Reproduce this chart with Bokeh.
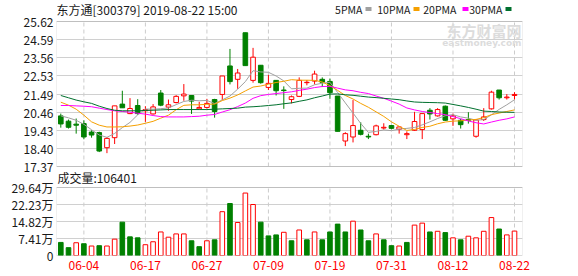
from bokeh.plotting import figure
from bokeh.models import (ColumnDataSource, FixedTicker, CustomJSTickFormatter,
                          BoxAnnotation, Range1d)
from bokeh.core.properties import value
from bokeh.embed import file_html
from bokeh.resources import INLINE

FONT = "Noto Sans CJK SC"

dates = ["05-30", "05-31", "06-03", "06-04", "06-05", "06-06", "06-10", "06-11", "06-12", "06-13",
         "06-14", "06-17", "06-18", "06-19", "06-20", "06-21", "06-24", "06-25", "06-26", "06-27",
         "06-28", "07-01", "07-02", "07-03", "07-04", "07-05", "07-08", "07-09", "07-10", "07-11",
         "07-12", "07-15", "07-16", "07-17", "07-18", "07-19", "07-22", "07-23", "07-24", "07-25",
         "07-26", "07-29", "07-30", "07-31", "08-01", "08-02", "08-05", "08-06", "08-07", "08-08",
         "08-09", "08-12", "08-13", "08-14", "08-15", "08-16", "08-19", "08-20", "08-21", "08-22"]
tick_dates = ["06-04", "06-17", "06-27", "07-09", "07-19", "07-31", "08-12", "08-22"]

opens = [20.25, 19.95, 19.78, 19.81, 19.33, 19.30, 18.44, 19.01, 20.92, 20.38,
         20.84, 20.54, 20.36, 21.55, 20.75, 21.01, 21.39, 21.41, 20.65, 20.73,
         21.18, 21.47, 23.09, 22.33, 24.98, 22.27, 23.13, 21.87, 22.27, 21.72,
         21.18, 21.36, 22.14, 22.23, 22.33, 22.21, 21.38, 18.82, 19.05, 19.43,
         19.09, 19.18, 19.56, 19.70, 19.49, 19.18, 19.43, 19.47, 20.57, 20.25,
         20.80, 20.08, 20.00, 20.04, 19.09, 20.04, 20.65, 21.72, 21.28, 21.41]
highs = [20.38, 20.04, 20.10, 20.00, 19.43, 19.35, 19.05, 20.82, 21.68, 21.26,
         21.20, 20.80, 20.92, 21.72, 21.18, 21.43, 22.06, 21.41, 21.05, 21.22,
         21.22, 22.52, 24.06, 22.92, 24.98, 24.12, 23.13, 22.58, 22.29, 21.93,
         21.41, 22.44, 22.29, 22.82, 22.44, 22.37, 21.38, 19.32, 21.15, 19.89,
         19.24, 19.75, 19.83, 19.74, 19.66, 19.37, 20.48, 20.38, 20.69, 20.69,
         20.84, 20.38, 20.08, 20.46, 20.04, 20.69, 21.68, 21.72, 21.49, 21.60]
lows = [19.58, 19.53, 19.24, 18.92, 19.01, 18.19, 18.13, 18.65, 20.71, 20.35,
        20.31, 19.91, 20.33, 20.80, 20.54, 20.96, 21.11, 20.36, 20.63, 20.67,
        20.15, 21.15, 22.04, 21.79, 23.11, 22.14, 22.08, 21.72, 21.41, 20.65,
        20.96, 21.32, 21.99, 22.04, 21.89, 21.22, 19.37, 18.53, 18.74, 19.14,
        18.93, 19.14, 19.47, 19.49, 19.24, 18.93, 19.39, 18.93, 20.04, 20.21,
        19.96, 19.68, 19.53, 19.81, 19.01, 19.96, 20.61, 21.18, 21.18, 21.18]
closes = [19.79, 19.60, 19.72, 19.05, 19.16, 18.25, 18.97, 20.82, 20.71, 20.67,
          20.38, 20.61, 20.76, 20.86, 20.88, 21.36, 21.49, 21.09, 20.73, 20.96,
          20.50, 22.52, 22.20, 22.69, 23.11, 23.59, 22.14, 22.10, 21.68, 21.69,
          21.34, 22.27, 22.16, 22.63, 22.16, 21.57, 19.37, 19.24, 19.70, 19.20,
          19.05, 19.68, 19.60, 19.54, 19.62, 19.24, 19.93, 20.38, 20.36, 20.61,
          20.00, 20.25, 19.75, 20.00, 20.02, 20.19, 21.60, 21.28, 21.32, 21.47]
prev_close = 20.20

ma5 = [20.25, 20.14, 20.00, 19.77, 19.46, 19.16, 19.03, 19.25, 19.58, 19.88,
       20.31, 20.64, 20.63, 20.66, 20.70, 20.89, 21.07, 21.14, 21.11, 21.13,
       20.95, 21.16, 21.38, 21.77, 22.20, 22.82, 22.75, 22.73, 22.52, 22.24,
       21.79, 21.82, 21.83, 22.02, 22.11, 22.16, 21.58, 20.99, 20.41, 19.82,
       19.31, 19.37, 19.45, 19.41, 19.50, 19.54, 19.59, 19.74, 19.91, 20.10,
       20.26, 20.32, 20.19, 20.12, 20.00, 20.04, 20.31, 20.62, 20.88, 21.17]
ma10 = [21.03, 20.86, 20.63, 20.29, 19.91, 19.72, 19.62, 19.62, 19.63, 19.67,
        19.73, 19.83, 19.94, 20.12, 20.29, 20.60, 20.85, 20.88, 20.88, 20.91,
        20.92, 21.12, 21.26, 21.44, 21.67, 21.89, 21.95, 22.05, 22.15, 22.22,
        22.31, 22.28, 22.28, 22.27, 22.18, 21.97, 21.70, 21.41, 21.21, 20.96,
        20.74, 20.48, 20.22, 19.91, 19.66, 19.42, 19.48, 19.59, 19.66, 19.80,
        19.90, 19.95, 19.97, 20.01, 20.05, 20.15, 20.32, 20.41, 20.50, 20.59]
ma20 = [20.84, 20.84, 20.82, 20.80, 20.77, 20.69, 20.61, 20.54, 20.50, 20.46,
        20.40, 20.35, 20.27, 20.21, 20.19, 20.19, 20.19, 20.21, 20.23, 20.29,
        20.33, 20.47, 20.60, 20.78, 20.98, 21.25, 21.40, 21.47, 21.52, 21.57,
        21.62, 21.70, 21.77, 21.86, 21.92, 21.93, 21.83, 21.73, 21.68, 21.59,
        21.52, 21.38, 21.25, 21.09, 20.92, 20.70, 20.59, 20.50, 20.44, 20.38,
        20.32, 20.21, 20.09, 19.96, 19.86, 19.79, 19.90, 20.00, 20.08, 20.19]
ma30 = [21.41, 21.28, 21.15, 21.05, 20.96, 20.80, 20.67, 20.57, 20.54, 20.54,
        20.54, 20.56, 20.57, 20.59, 20.61, 20.61, 20.61, 20.61, 20.61, 20.61,
        20.63, 20.65, 20.67, 20.69, 20.75, 20.77, 20.80, 20.84, 20.88, 20.94,
        20.99, 21.08, 21.16, 21.28, 21.38, 21.49, 21.50, 21.45, 21.42, 21.37,
        21.32, 21.29, 21.25, 21.21, 21.17, 21.10, 21.04, 21.02, 21.01, 21.00,
        20.98, 20.90, 20.82, 20.73, 20.63, 20.52, 20.50, 20.47, 20.46, 20.45]

volumes = [57000, 34200, 55600, 51300, 41300, 42800, 41300, 71300, 145400, 81200,
           77000, 47000, 59900, 102600, 79800, 94100, 94100, 64100, 38500, 64100,
           68400, 191000, 226600, 143900, 272200, 222300, 145400, 85500, 89800, 101200,
           64100, 111200, 68400, 102600, 68400, 102600, 136800, 102600, 149600, 111200,
           64100, 94100, 68400, 42800, 41300, 57000, 132500, 141100, 102600, 105500,
           99800, 77000, 68400, 84100, 77000, 105500, 165300, 115400, 89800, 106401]

price_ticks = [17.37, 18.40, 19.43, 20.46, 21.49, 22.53, 23.56, 24.59, 25.62]
vol_ticks = [0, 74100, 148200, 222300, 296400]
title_text = "东方通[300379] 2019-08-22 15:00"
ma_names = ["5PMA", "10PMA", "20PMA", "30PMA"]
ma_colors = ["#a0a0a0", "#f5a000", "#ff00ff", "#00702e"]

RED = "#ff0000"
GREEN = "#008000"
TXT = "#1a1a1a"
FRAME_C = "#999999"

# ---- layout constants (canvas pixels) ----
W, H = 578, 276
LEFT, RIGHT = 56, 522
FRAME_BOTTOM = 255          # frame spans y = 0 .. 255
PRICE_TOP, PRICE_BOT = 21, 166
VOL_TOP = 187

n = len(dates)
xs = list(range(n))
xticks = [dates.index(d) for d in tick_dates]
x0, x1 = -0.56, n + 0.04

pu = (price_ticks[-1] - price_ticks[0]) / (PRICE_BOT - PRICE_TOP)
y_end = price_ticks[-1] + PRICE_TOP * pu
y_start = price_ticks[0] - (FRAME_BOTTOM - PRICE_BOT) * pu
vu = vol_ticks[-1] / (FRAME_BOTTOM - VOL_TOP)
v_end = vol_ticks[-1] + VOL_TOP * vu


def px_x(px):
    return x0 + (px - LEFT) / (RIGHT - LEFT) * (x1 - x0)


def py_y(py):
    return y_end - py * pu


def vol_to_y(vv):
    return py_y(FRAME_BOTTOM - vv / vu)


up = [c > o for o, c in zip(opens, closes)]
prevs = [prev_close] + closes[:-1]
vup = [c >= pc for c, pc in zip(closes, prevs)]

src = ColumnDataSource(dict(
    x=xs, high=highs, low=lows,
    top=[max(o, c) for o, c in zip(opens, closes)],
    bottom=[min(o, c) for o, c in zip(opens, closes)],
    color=[RED if u else GREEN for u in up],
    fill=["white" if u else GREEN for u in up],
    vol=volumes,
    vcolor=[RED if u else GREEN for u in vup],
    vfill=["white" if u else GREEN for u in vup],
    ma5=ma5, ma10=ma10, ma20=ma20, ma30=ma30,
))

p = figure(width=W, height=H, x_range=(x0, x1), y_range=(y_start, y_end),
           output_backend="svg", toolbar_location=None,
           min_border_left=LEFT, min_border_right=W - RIGHT,
           min_border_top=0, min_border_bottom=H - FRAME_BOTTOM)
p.extra_y_ranges = {"vol": Range1d(0, v_end)}
p.outline_line_color = None
p.background_fill_color = "white"
p.border_fill_color = "white"
p.xgrid.visible = False

all_ticks = list(price_ticks) + [vol_to_y(t) for t in vol_ticks]
all_labels = ["%.2f" % t for t in price_ticks] + \
             ["0" if t == 0 else "%.2f万" % (t / 10000) for t in vol_ticks]
p.ygrid.ticker = FixedTicker(ticks=all_ticks)
p.ygrid.grid_line_color = "#d0d0d0"
ya = p.yaxis[0]
ya.ticker = FixedTicker(ticks=all_ticks)
ya.formatter = CustomJSTickFormatter(args=dict(tvals=all_ticks, tlabels=all_labels), code="""
    for (let i = 0; i < tvals.length; i++) {
        if (Math.abs(tvals[i] - tick) < 1e-6) return tlabels[i];
    }
    return "";
""")

xa = p.xaxis[0]
xa.ticker = FixedTicker(ticks=xticks)
xa.major_label_overrides = {i: dates[i] for i in xticks}

for ax, col in ((ya, TXT), (xa, RED)):
    ax.axis_line_color = None
    ax.major_tick_line_color = None
    ax.minor_tick_line_color = None
    ax.major_tick_out = 0
    ax.major_tick_in = 0
    ax.major_label_text_font = FONT
    ax.major_label_text_font_size = "12px"
    ax.major_label_text_color = col
ya.major_label_standoff = 3
xa.major_label_standoff = 5

k = len(xticks)
p.segment(x0=xticks, y0=[price_ticks[0]] * k, x1=xticks, y1=[price_ticks[-1]] * k,
          line_color="#cccccc", line_dash="4 3", line_width=1)
p.segment(x0=xticks, y0=[vol_ticks[0]] * k, x1=xticks, y1=[vol_ticks[-1]] * k,
          line_color="#cccccc", line_dash="4 3", line_width=1, y_range_name="vol")

p.segment(x0="x", y0="high", x1="x", y1="low", source=src, line_color="color", line_width=1)
p.vbar(x="x", width=0.6, top="top", bottom="bottom", source=src,
       fill_color="fill", line_color="color", line_width=1)
for name, col in zip(["ma5", "ma10", "ma20", "ma30"], ma_colors):
    p.line(x="x", y=name, source=src, line_color=col, line_width=1)

p.vbar(x="x", width=0.6, top="vol", bottom=0, source=src, y_range_name="vol",
       fill_color="vfill", line_color="vcolor", line_width=1)

p.add_layout(BoxAnnotation(left=x0, right=x1, bottom=price_ticks[0], top=price_ticks[-1],
                           fill_color=None, line_color=FRAME_C, line_width=1))
p.add_layout(BoxAnnotation(left=x0, right=x1, bottom=vol_ticks[0], top=vol_ticks[-1],
                           y_range_name="vol", fill_color=None, line_color=FRAME_C, line_width=1))

hy = py_y(8.5)
p.text(x=[px_x(LEFT)], y=[hy], text=[title_text], text_font=value(FONT),
       text_font_size="12px", text_color=TXT, text_align="left", text_baseline="middle")
leg_end = [362, 410, 456, 502]
sq_left = [365, 413, 462, 505]
p.text(x=[px_x(e) for e in leg_end], y=[hy] * 4, text=ma_names, text_font=value(FONT),
       text_font_size="10.5px", text_color=TXT, text_align="right", text_baseline="middle")
p.rect(x=[px_x(s + 3) for s in sq_left], y=[hy] * 4, width=6, height=4,
       width_units="screen", height_units="screen", fill_color=ma_colors, line_color=None)

p.text(x=[px_x(RIGHT - 1)], y=[py_y(30)], text=["东方财富网"], text_font=value(FONT),
       text_font_size="15px", text_font_style="bold", text_color="#dcdcdc",
       text_align="right", text_baseline="middle")
p.text(x=[px_x(RIGHT - 1)], y=[py_y(42.5)], text=["eastmoney.com"],
       text_font=value("DejaVu Sans"), text_font_size="9px", text_font_style="bold",
       text_color="#dcdcdc", text_align="right", text_baseline="middle")

p.text(x=[px_x(LEFT + 1)], y=[py_y(177)], text=["成交量:" + str(volumes[-1])],
       text_font=value(FONT), text_font_size="12px", text_color=TXT,
       text_align="left", text_baseline="middle")

open("out.html", "w").write(file_html(p, INLINE))
